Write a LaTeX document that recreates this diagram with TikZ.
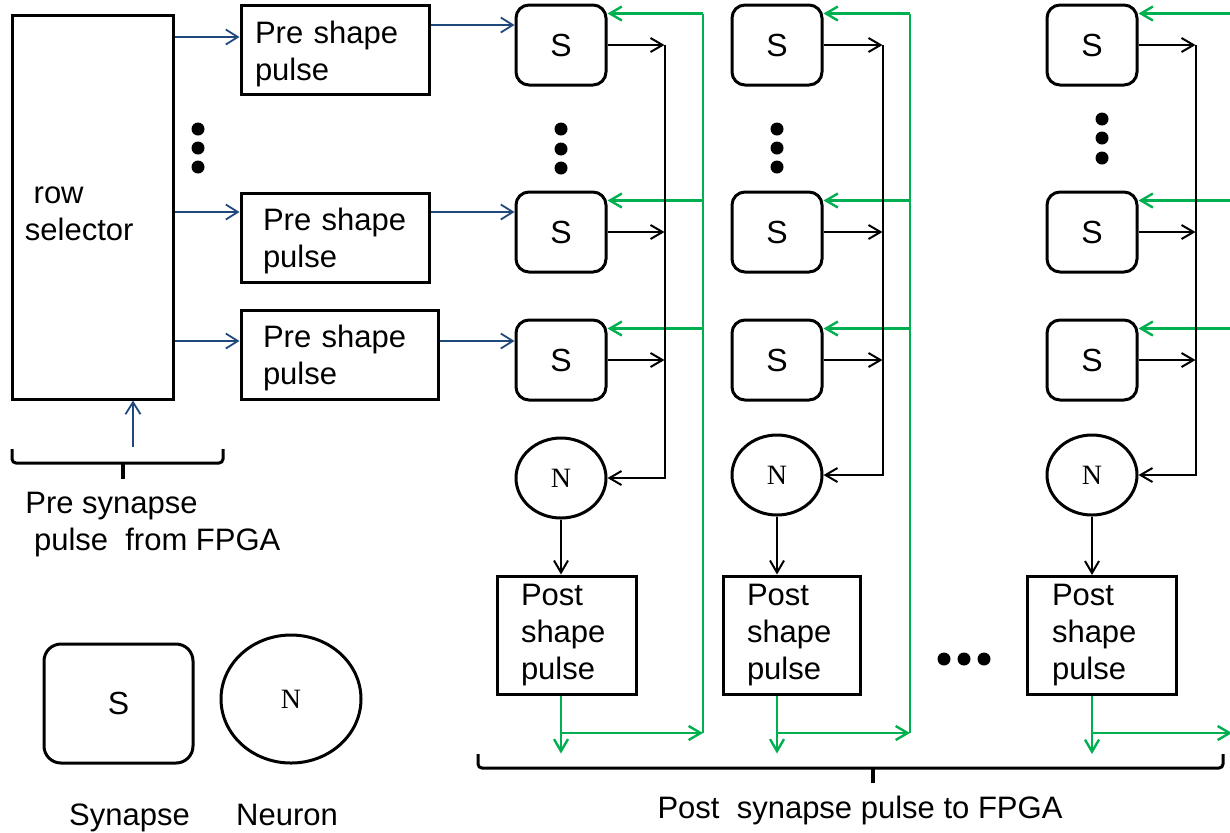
\documentclass[tikz,border=0pt]{standalone}
\usepackage{fontspec}
\setmainfont{Liberation Sans}
\newfontfamily\nfont{Liberation Serif}
\usepackage{tikz}
\usetikzlibrary{arrows.meta}
\usetikzlibrary{positioning}
\usetikzlibrary{shapes.geometric}
\definecolor{preblue}{RGB}{31,73,125}
\definecolor{fbgreen}{RGB}{0,176,80}
\newcommand{\topstrut}{\rule{0pt}{15pt}}

\begin{document}
\begin{tikzpicture}[
    x=0.5pt, y=0.5pt,
    every node/.style={font=\fontsize{15.5}{18.5}\selectfont},
    selbox/.style={rectangle, draw, line width=1.5pt, minimum width=80.5pt, minimum height=192pt, text width=67.5pt, inner xsep=6.5pt, align=left},
    preshape/.style={rectangle, draw, line width=1.5pt, minimum height=44.5pt, text width=72pt, inner xsep=11pt, inner ysep=0pt, align=left},
    synbox/.style={rectangle, draw, line width=1.5pt, rounded corners=6.5pt, minimum width=45pt, minimum height=40pt, font=\fontsize{16}{19}\selectfont},
    neuron/.style={ellipse, draw, line width=1.5pt, minimum width=45pt, minimum height=40pt, inner sep=0pt, font=\nfont\fontsize{14}{16}\selectfont},
    postshape/.style={rectangle, draw, line width=1.5pt, minimum height=59pt, text width=45.5pt, inner xsep=12pt, inner ysep=0pt, align=left},
    prearrow/.style={-{Straight Barb[length=6pt, width=7.5pt]}, preblue, line width=0.9pt},
    sigarrow/.style={-{Straight Barb[length=6pt, width=7pt]}, line width=1pt},
    fbarrow/.style={-{Straight Barb[length=6pt, width=7pt]}, fbgreen, line width=1.2pt},
    fbline/.style={fbgreen, line width=1.2pt},
    bracket/.style={line width=1.5pt, rounded corners=2pt},
    brackettip/.style={line width=2pt}
    ]

    \useasboundingbox (0,0) rectangle (1230,-832);
    \clip (0,0) rectangle (1230,-832);

    % Nodes
    \node[selbox] (rs) at (92.5,-207) {\topstrut\hspace*{0.28em}row\\selector};
    \node[preshape, text width=80pt, inner xsep=7pt] (pre1) at (335,-50) {\topstrut Pre shape\\pulse};
    \node[preshape] (pre2) at (335,-237.5) {\topstrut Pre shape\\pulse};
    \node[preshape, text width=76.5pt] (pre3) at (339.5,-354.5) {\topstrut Pre shape\\pulse};

    \node[synbox] (s1a) at (561,-45) {S};
    \node[synbox] (s1b) at (561,-232) {S};
    \node[synbox] (s1c) at (561,-360) {S};
    \node[neuron] (n1) at (561,-478) {N};
    \node[postshape] (post1) at (566.5,-635) {Post\\shape\\pulse};

    \node[synbox] (s2a) at (777,-45) {S};
    \node[synbox] (s2b) at (777,-232) {S};
    \node[synbox] (s2c) at (777,-360) {S};
    \node[neuron] (n2) at (777,-475) {N};
    \node[postshape, text width=44.5pt] (post2) at (791.5,-635) {Post\\shape\\pulse};

    \node[synbox] (s3a) at (1092,-45) {S};
    \node[synbox] (s3b) at (1092,-232) {S};
    \node[synbox] (s3c) at (1092,-360) {S};
    \node[neuron] (n3) at (1092,-475) {N};
    \node[postshape, text width=49.5pt, inner xsep=12.5pt] (post3) at (1101.5,-635.5) {Post\\shape\\pulse};

    \node[anchor=west, align=left, inner sep=0pt] (prelbl) at (25,-525) {Pre synapse\\\hspace*{0.28em}pulse\ \ from FPGA};
    \node[inner sep=0pt] (postlbl) at (860,-810) {Post\ \ synapse pulse to FPGA};

    % legend
    \node[synbox, minimum width=74.5pt, minimum height=59.5pt, rounded corners=8.5pt] (legs) at (118.5,-703.5) {S};
    \node[neuron, minimum width=70pt, minimum height=64pt] (legn) at (291,-699) {N};
    \node[below=19.5pt of legs, xshift=5.5pt, inner sep=0pt] (legslbl) {Synapse};
    \node[below=19.5pt of legn, xshift=-2pt, inner sep=0pt] (legnlbl) {Neuron};

    % dots
    \fill (198,-129) circle (3.25pt) (198,-148) circle (3.25pt) (198,-167) circle (3.25pt);
    \fill (561,-129) circle (3.25pt) (561,-149) circle (3.25pt) (561,-168) circle (3.25pt);
    \fill (777,-129) circle (3.25pt) (777,-148) circle (3.25pt) (777,-167) circle (3.25pt);
    \fill (1102,-119) circle (3.25pt) (1102,-138) circle (3.25pt) (1102,-158) circle (3.25pt);
    \fill (944,-659) circle (3.25pt) (964,-659) circle (3.25pt) (984,-659) circle (3.25pt);

    % pre synapse pulses
    \coordinate (selin) at (133,-447);
    \draw[prearrow] (selin) -- (selin |- rs.south);
    \draw[bracket] (12,-449) |- (223,-463) -- (223,-449);
    \draw[brackettip] (123,-463) -- (123,-479);

    \draw[prearrow] ([yshift=6.5pt]pre1.west -| rs.east) -- ([yshift=6.5pt]pre1.west);
    \draw[prearrow] ([yshift=12.5pt]pre1.east) -- ([yshift=12.5pt]pre1.east -| s1a.west);
    \draw[prearrow] ([yshift=12.75pt]pre2.west -| rs.east) -- ([yshift=12.75pt]pre2.west);
    \draw[prearrow] ([yshift=12.75pt]pre2.east) -- ([yshift=12.75pt]pre2.east -| s1b.west);
    \draw[prearrow] ([yshift=6.75pt]pre3.west -| rs.east) -- ([yshift=6.75pt]pre3.west);
    \draw[prearrow] ([yshift=6.75pt]pre3.east) -- ([yshift=6.75pt]pre3.east -| s1c.west);

    % post synapse feedback
    \coordinate (g1) at (703,-733);
    \coordinate (g2) at (910,-733);
    \coordinate (g3) at (1232,-733);

    \draw[fbarrow] (post1.south -| n1) -- ++(0,-58);
    \draw[fbarrow] (g1 -| n1) -- (g1);
    \draw[fbline] (g1) -- ([yshift=-5pt]s1a.north east -| g1);
    \draw[fbarrow] ([yshift=-5pt]s1a.north east -| g1) -- ([yshift=-5pt]s1a.north east);
    \draw[fbarrow] ([yshift=-5pt]s1b.north east -| g1) -- ([yshift=-5pt]s1b.north east);
    \draw[fbarrow] ([yshift=-5pt]s1c.north east -| g1) -- ([yshift=-5pt]s1c.north east);

    \draw[fbarrow] (post2.south -| n2) -- ++(0,-58);
    \draw[fbarrow] (g2 -| n2) -- (g2);
    \draw[fbline] (g2) -- ([yshift=-5pt]s2a.north east -| g2);
    \draw[fbarrow] ([yshift=-5pt]s2a.north east -| g2) -- ([yshift=-5pt]s2a.north east);
    \draw[fbarrow] ([yshift=-5pt]s2b.north east -| g2) -- ([yshift=-5pt]s2b.north east);
    \draw[fbarrow] ([yshift=-5pt]s2c.north east -| g2) -- ([yshift=-5pt]s2c.north east);

    \draw[fbarrow] (post3.south -| n3) -- ++(0,-58);
    \draw[fbarrow] (g3 -| n3) -- (g3);
    \draw[fbline] (g3) -- ([yshift=-5pt]s3a.north east -| g3);
    \draw[fbarrow] ([yshift=-5pt]s3a.north east -| g3) -- ([yshift=-5pt]s3a.north east);
    \draw[fbarrow] ([yshift=-5pt]s3b.north east -| g3) -- ([yshift=-5pt]s3b.north east);
    \draw[fbarrow] ([yshift=-5pt]s3c.north east -| g3) -- ([yshift=-5pt]s3c.north east);

    \draw[bracket] (478,-754) |- (1223,-768) -- (1223,-754);
    \draw[brackettip] (873,-768) -- (873,-783);

    % synapse to neuron
    \draw[sigarrow] (s1a.east) -- ++(57,0) coordinate (r1);
    \draw[sigarrow] (r1) |- (n1.east);
    \draw[sigarrow] (s1b.east) -- (s1b.east -| r1);
    \draw[sigarrow] (s1c.east) -- (s1c.east -| r1);
    \draw[sigarrow] (n1.south) -- (post1.north -| n1);

    \draw[sigarrow] (s2a.east) -- ++(59,0) coordinate (r2);
    \draw[sigarrow] (r2) |- (n2.east);
    \draw[sigarrow] (s2b.east) -- (s2b.east -| r2);
    \draw[sigarrow] (s2c.east) -- (s2c.east -| r2);
    \draw[sigarrow] (n2.south) -- (post2.north -| n2);

    \draw[sigarrow] (s3a.east) -- ++(57,0) coordinate (r3);
    \draw[sigarrow] (r3) |- (n3.east);
    \draw[sigarrow] (s3b.east) -- (s3b.east -| r3);
    \draw[sigarrow] (s3c.east) -- (s3c.east -| r3);
    \draw[sigarrow] (n3.south) -- (post3.north -| n3);

\end{tikzpicture}
\end{document}
